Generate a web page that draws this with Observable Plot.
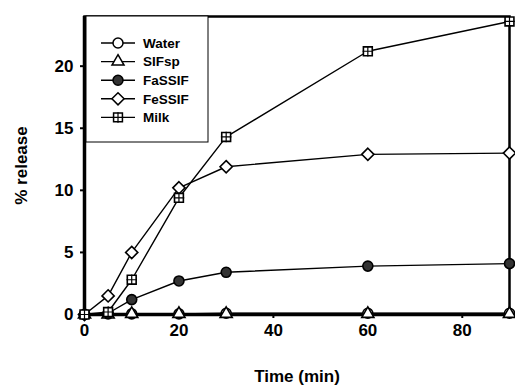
<!DOCTYPE html>
<html><head><meta charset="utf-8">
<script src="https://cdn.jsdelivr.net/npm/d3@7"></script>
<script src="https://cdn.jsdelivr.net/npm/@observablehq/plot@0.6"></script>
<style>
body{margin:0;background:#fff}
svg{font-family:"Liberation Sans",Arial,sans-serif}
</style>
</head><body><div id="chart"></div>
<script>
const times = [0, 5, 10, 20, 30, 60, 90];
const seriesNames = ["Water", "SIFsp", "FaSSIF", "FeSSIF", "Milk"];
const water  = [0, 0.05, 0.05, 0.05, 0.1, 0.1, 0.1];
const sifsp  = [0, 0.0, 0.05, 0.05, 0.05, 0.05, 0.05];
const fassif = [0, 0.1, 1.2, 2.7, 3.4, 3.9, 4.1];
const fessif = [0, 1.5, 5.0, 10.2, 11.9, 12.9, 13.0];
const milk   = [0, 0.2, 2.8, 9.4, 14.3, 21.2, 23.6];
const xTicks = [0, 20, 40, 60, 80];
const yTicks = [0, 5, 10, 15, 20];

const values = [water, sifsp, fassif, fessif, milk];
const rows = seriesNames.flatMap((s, i) => times.map((t, j) => ({series: s, time: t, value: values[i][j]})));
const of = name => rows.filter(d => d.series === name);

const plot = Plot.plot({
  width: 515, height: 391,
  marginLeft: 84, marginRight: 6, marginTop: 16, marginBottom: 77,
  style: {fontFamily: '"Liberation Sans", Arial, sans-serif', fontSize: "17px", fontWeight: "bold", color: "#000", background: "#fff", overflow: "visible"},
  x: {domain: [0, 90]},
  y: {domain: [0, 24]},
  marks: [
    Plot.line(rows, {x: "time", y: "value", z: "series", stroke: "#000", strokeWidth: 1.4}),
    Plot.ruleY([0], {stroke: "#000", strokeWidth: 3.5}),
    Plot.ruleX([0], {stroke: "#000", strokeWidth: 3.5}),
    Plot.frame({stroke: "#000", strokeWidth: 2.5}),
    Plot.axisX({ticks: xTicks, tickSize: 4, tickPadding: 5, strokeWidth: 2, label: "Time (min)", labelArrow: "none", labelAnchor: "center", labelOffset: 67, fontSize: 17}),
    Plot.axisY({ticks: yTicks, tickSize: 4, tickPadding: 7, strokeWidth: 2, label: "% release", labelArrow: "none", labelAnchor: "center", labelOffset: 70, fontSize: 17}),
    Plot.dot(of("Water"), {x: "time", y: "value", symbol: "circle", r: 5, fill: "#fff", stroke: "#000", strokeWidth: 1.6}),
    Plot.dot(of("SIFsp"), {x: "time", y: "value", symbol: "triangle", r: 4.5, fill: "#fff", stroke: "#000", strokeWidth: 1.6}),
    Plot.dot(of("FaSSIF"), {x: "time", y: "value", symbol: "circle", r: 5, fill: "#333", stroke: "#000", strokeWidth: 1.6}),
    Plot.dot(of("FeSSIF"), {x: "time", y: "value", symbol: "diamond2", r: 5.5, fill: "#fff", stroke: "#000", strokeWidth: 1.6}),
    Plot.dot(of("Milk"), {x: "time", y: "value", symbol: "square", r: 5, fill: "#fff", stroke: "#000", strokeWidth: 1.6}),
    Plot.dot(of("Milk"), {x: "time", y: "value", symbol: "plus", r: 3.5, stroke: "#000", strokeWidth: 1.2})
  ]
});

// Legend
const svg = d3.select(plot);
const lg = svg.append("g").attr("class", "legend").attr("text-anchor", "start");
lg.append("rect").attr("x", 86).attr("y", 16).attr("width", 122).attr("height", 126)
  .attr("fill", "#fff").attr("stroke", "#000").attr("stroke-width", 1);
const symbols = [
  {name: "Water", sym: d3.symbolCircle, fill: "#fff", size: Math.PI * 25},
  {name: "SIFsp", sym: d3.symbolTriangle, fill: "#fff", size: Math.PI * 20},
  {name: "FaSSIF", sym: d3.symbolCircle, fill: "#333", size: Math.PI * 25},
  {name: "FeSSIF", sym: d3.symbolDiamond2, fill: "#fff", size: Math.PI * 30},
  {name: "Milk", sym: d3.symbolSquare, fill: "#fff", size: Math.PI * 25}
];
symbols.forEach((s, i) => {
  const y = 43 + i * 18.6;
  const g = lg.append("g");
  g.append("line").attr("x1", 101).attr("x2", 135).attr("y1", y).attr("y2", y).attr("stroke", "#000").attr("stroke-width", 1.4);
  g.append("path").attr("d", d3.symbol(s.sym, s.size)()).attr("transform", `translate(118,${y})`)
    .attr("fill", s.fill).attr("stroke", "#000").attr("stroke-width", 1.5);
  if (s.name === "Milk") {
    g.append("path").attr("d", d3.symbol(d3.symbolPlus, Math.PI * 12)()).attr("transform", `translate(118,${y})`)
      .attr("fill", "none").attr("stroke", "#000").attr("stroke-width", 1.2);
  }
  g.append("text").attr("x", 143).attr("y", y).attr("dy", "0.35em").attr("text-anchor", "start")
    .attr("font-size", 13.5).attr("font-weight", "bold").attr("fill", "#000").text(s.name);
});

document.getElementById("chart").appendChild(plot);
</script>
</body></html>
